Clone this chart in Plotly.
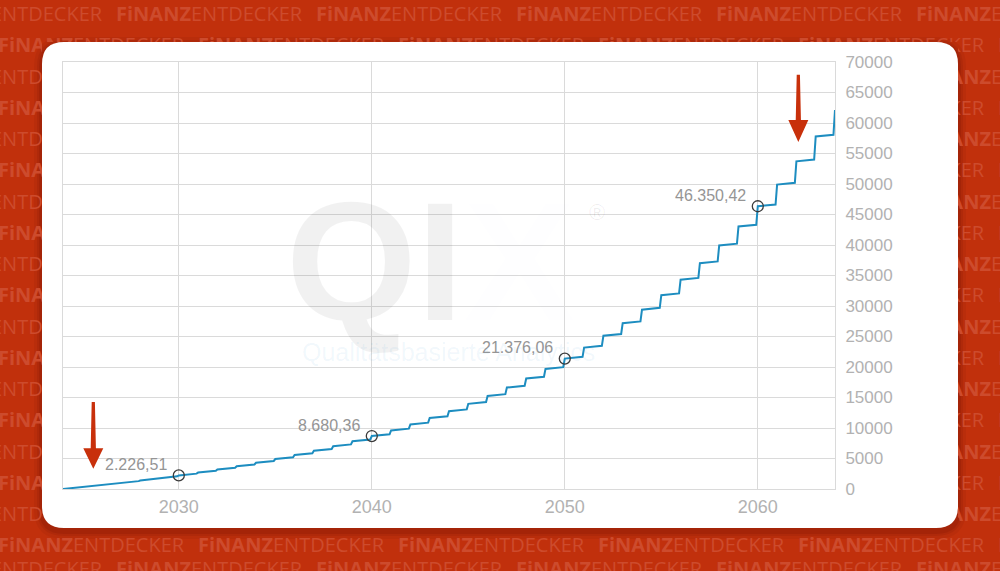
import plotly.graph_objects as go

# ---------------- data ----------------
years = list(range(2024, 2065))
# depot value at the start of each year (after the yearly step)
value_start = [0, 311.3, 644.3, 1000.7, 1382.0, 1790.0, 2226.5, 2693.7, 3193.5, 3728.3,
               4300.5, 4912.8, 5568.0, 6269.0, 7019.1, 7821.7, 8680.4, 9599.4, 10582.6,
               11634.7, 12760.3, 13964.8, 15253.6, 16632.7, 18108.2, 19687.0, 21376.1,
               23184.0, 25118.2, 27187.7, 29402.1, 31771.5, 34306.8, 37019.5, 39922.1,
               43027.9, 46350.4, 49907.0, 53711.8, 57782.8, 62138.9]
# depot value at the end of each year (just before the next step)
value_end = [290.9, 602.2, 935.2, 1291.6, 1672.9, 2080.9, 2517.4, 2984.6, 3484.4, 4019.2,
             4591.4, 5203.7, 5858.9, 6559.9, 7310.0, 8112.6, 8971.4, 9890.3, 10873.5,
             11925.6, 13051.2, 14255.7, 15544.5, 16923.6, 18399.1, 19977.9, 21667.3,
             23474.9, 25409.1, 27478.6, 29693.0, 32062.4, 34597.7, 37310.4, 40213.0,
             43318.8, 46642.1, 50197.9, 54002.7, 58073.7]

label_years = [2030, 2040, 2050, 2060]
label_values = [2226.51, 8680.36, 21376.06, 46350.42]
label_texts = ["2.226,51", "8.680,36", "21.376,06", "46.350,42"]

x_ticks = [2030, 2040, 2050, 2060]
y_ticks = list(range(0, 70001, 5000))

# ---------------- styles ----------------
W, H = 1000, 571
BG = "#c1300c"
WM_COLOR = "#cd4b2d"
GRID = "#dadada"
TICK_COLOR = "#b2b2b2"
LINE_COLOR = "#1d8dc0"
ARROW_COLOR = "#c8300b"

PX_L, PX_R, PX_T, PX_B = 63, 835, 62, 489

fig = go.Figure()

# step line
lx, ly = [], []
for i in range(len(value_end)):
    lx.append(years[i]); ly.append(value_start[i])
    lx.append(years[i] + 0.92); ly.append(value_end[i])
lx.append(years[-1]); ly.append(value_start[-1])
fig.add_trace(go.Scatter(x=lx, y=ly, mode="lines",
                         line=dict(color=LINE_COLOR, width=2),
                         hoverinfo="skip", showlegend=False))
fig.add_trace(go.Scatter(x=label_years, y=label_values, mode="markers",
                         marker=dict(symbol="circle-open", size=11,
                                     color="#3a3a3a", line=dict(width=1.3)),
                         hoverinfo="skip", showlegend=False))

# ---------------- watermark strips ----------------
strips = [  # (x0, x1, y0, y1) in pixels
    (0, 1000, 0, 42),
    (0, 1000, 528, 571),
    (0, 42, 42, 528),
    (958, 1000, 42, 528),
]
row_y = [16 + 31.25 * k for k in range(18)] + [570.5]
layout_axes = {}
for si, (x0, x1, y0, y1) in enumerate(strips):
    n = si + 2
    tx, ty = [], []
    for k, py in enumerate(row_y):
        if py < y0 - 15 or py > y1 + 15:
            continue
        off = 116 if k % 2 == 0 else -2
        for j in range(-1, 6):
            sx = off + 200 * j
            if sx + 190 < x0 or sx > x1:
                continue
            tx.append(sx); ty.append(H - py)
    fig.add_trace(go.Scatter(x=tx, y=ty, mode="text",
                             text=["<b>FiNANZ</b>ENTDECKER"] * len(tx),
                             textposition="middle right",
                             textfont=dict(family="Open Sans", size=20, color=WM_COLOR),
                             cliponaxis=True, hoverinfo="skip", showlegend=False,
                             xaxis=f"x{n}", yaxis=f"y{n}"))
    layout_axes[f"xaxis{n}"] = dict(domain=[x0 / W, x1 / W], range=[x0, x1], visible=False,
                                    fixedrange=True, anchor=f"y{n}", automargin=False)
    layout_axes[f"yaxis{n}"] = dict(domain=[1 - y1 / H, 1 - y0 / H], range=[H - y1, H - y0],
                                    visible=False, fixedrange=True, anchor=f"x{n}",
                                    automargin=False)

# ---------------- card ----------------
def rrect(x0, y0, x1, y1, r):
    X0, X1 = x0 / W, x1 / W
    YT, YB = 1 - y0 / H, 1 - y1 / H
    rx, ry = r / W, r / H
    return (f"M {X0+rx},{YT} L {X1-rx},{YT} Q {X1},{YT} {X1},{YT-ry} "
            f"L {X1},{YB+ry} Q {X1},{YB} {X1-rx},{YB} L {X0+rx},{YB} "
            f"Q {X0},{YB} {X0},{YB+ry} L {X0},{YT-ry} Q {X0},{YT} {X0+rx},{YT} Z")

shapes = []
for d, a in [(8, 0.06), (5, 0.08), (3, 0.10)]:
    shapes.append(dict(type="path", xref="paper", yref="paper", layer="below",
                       path=rrect(42 - d, 42 - d + 3, 958 + d, 528 + d + 3, 22 + d),
                       fillcolor=f"rgba(70,0,0,{a})", line=dict(width=0)))
shapes.append(dict(type="path", xref="paper", yref="paper", layer="below",
                   path=rrect(42, 42, 958, 528, 22),
                   fillcolor="white", line=dict(width=0)))

# ---------------- arrows (data coords) ----------------
px_per_year = (PX_R - PX_L) / 40.0
def arrow(xc, y_top, y_base, y_tip):
    st = 1.6 / px_per_year
    sb = 2.6 / px_per_year
    hw = 10.0 / px_per_year
    return (f"M {xc-st},{y_top} L {xc+st},{y_top} L {xc+sb},{y_base} L {xc+hw},{y_base} "
            f"L {xc},{y_tip} L {xc-hw},{y_base} L {xc-sb},{y_base} Z")
for (xc, yt, yb, yp) in [(2025.57, 14260, 6700, 3300), (2062.1, 67900, 60500, 56900)]:
    shapes.append(dict(type="path", xref="x", yref="y", layer="above",
                       path=arrow(xc, yt, yb, yp), fillcolor=ARROW_COLOR,
                       line=dict(width=0)))

# ---------------- annotations ----------------
annotations = []
for xv, yv, t in zip(label_years, label_values, label_texts):
    annotations.append(dict(x=xv, y=yv, xref="x", yref="y", text=t, showarrow=False,
                            xanchor="right", yanchor="middle", xshift=-10, yshift=11,
                            font=dict(family="Liberation Sans", size=16, color="#959595")))
# QIX watermark
annotations.append(dict(x=0.43, y=1 - 262 / H, xref="paper", yref="paper",
                        text="QI<span style='color:rgba(30,110,170,0.075)'>X</span>",
                        showarrow=False, xanchor="center", yanchor="middle",
                        font=dict(family="Liberation Sans", size=168,
                                  color="rgba(0,0,0,0.055)", weight="bold")))
annotations.append(dict(x=597 / W, y=1 - 212 / H, xref="paper", yref="paper", text="®",
                        showarrow=False, font=dict(family="Liberation Sans", size=22,
                                                   color="rgba(0,0,0,0.07)")))
annotations.append(dict(x=448 / W, y=1 - 352 / H, xref="paper", yref="paper",
                        text="Qualitätsbasierte Analytics", showarrow=False,
                        font=dict(family="Liberation Sans", size=25,
                                  color="rgba(60,150,210,0.07)")))

fig.update_layout(
    width=W, height=H, margin=dict(l=0, r=0, t=0, b=0, pad=0, autoexpand=False),
    paper_bgcolor=BG, plot_bgcolor="rgba(0,0,0,0)",
    showlegend=False, shapes=shapes, annotations=annotations,
    xaxis=dict(domain=[PX_L / W, PX_R / W], range=[2024, 2064], tickvals=x_ticks,
               showgrid=True, gridcolor=GRID, gridwidth=1, zeroline=False,
               showline=True, linecolor=GRID, linewidth=1, mirror=True,
               ticks="", ticklabelstandoff=1, automargin=False,
               tickfont=dict(family="Liberation Sans", size=18, color=TICK_COLOR),
               fixedrange=True, anchor="y"),
    yaxis=dict(domain=[1 - PX_B / H, 1 - PX_T / H], range=[0, 70000], tickvals=y_ticks,
               tickformat="d", side="right", showgrid=True, gridcolor=GRID, gridwidth=1,
               zeroline=False, showline=True, linecolor=GRID, linewidth=1, mirror=True,
               ticks="", ticklabelstandoff=6, automargin=False,
               tickfont=dict(family="Liberation Sans", size=17, color=TICK_COLOR),
               fixedrange=True, anchor="x"),
    **layout_axes,
)

fig.write_html("out.html", config={"displayModeBar": False})
